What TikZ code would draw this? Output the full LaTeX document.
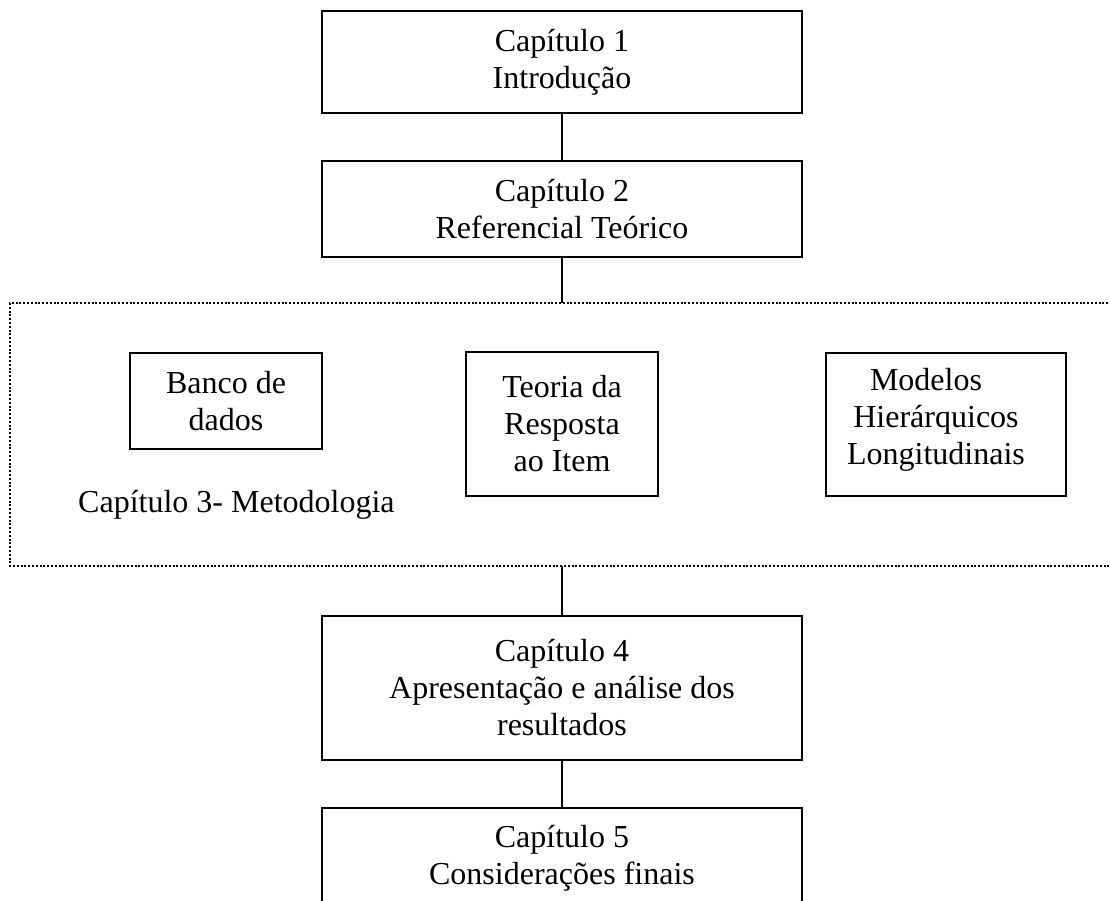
\documentclass[tikz,border=0pt]{standalone}
\usepackage{fontspec}
\setmainfont{Liberation Serif}
\begin{document}
\begin{tikzpicture}[x=1pt,y=-1pt,
  every node/.style={font=\fontsize{32}{37}\selectfont},
  chbox/.style={draw, line width=1.6pt, inner sep=0pt, align=center, minimum width=480pt},
  subbox/.style={draw, line width=1.6pt, inner sep=0pt, align=center},
  conn/.style={line width=1.6pt},
  dotframe/.style={line width=2pt, dash pattern=on 2pt off 1.8pt}]
\useasboundingbox (0,0) rectangle (1110,900);
\node[chbox, minimum height=102pt] (b1) at (562,62) {Capítulo 1\\Introdução};
\node[chbox, minimum height=96pt] (b2) at (562,209) {Capítulo 2\\Referencial Teórico};
\node[chbox, minimum height=144pt] (b4) at (562,688) {Capítulo 4\\Apresentação e análise dos\\resultados};
\node[chbox, minimum height=101pt] (b5) at (562,858.5) {Capítulo 5\\Considerações finais};
\draw[dotframe] (1112,303) -- (10,303) -- (10,566) -- (1112,566);
\coordinate (mtop) at (562,303);
\coordinate (mbot) at (562,566);
\node[subbox, minimum width=192pt, minimum height=96pt] (banco) at (226,401) {Banco de\\dados};
\node[subbox, minimum width=192pt, minimum height=144pt] (teoria) at (562,424) {Teoria da\\Resposta\\ao Item};
\node[subbox, minimum width=240pt, minimum height=143pt] (mod) at (946,424.5) {};
\node[align=center, inner sep=0pt] (modtxt) at (936,420) {Modelos\hspace*{20pt}\\Hierárquicos\\Longitudinais};
\node[anchor=base west, inner sep=0pt] (met) at (78,512) {Capítulo 3- Metodologia};
\draw[conn] (b1.south) -- (b2.north);
\draw[conn] (b2.south) -- (mtop);
\draw[conn] (mbot) -- (b4.north);
\draw[conn] (b4.south) -- (b5.north);
\end{tikzpicture}
\end{document}
